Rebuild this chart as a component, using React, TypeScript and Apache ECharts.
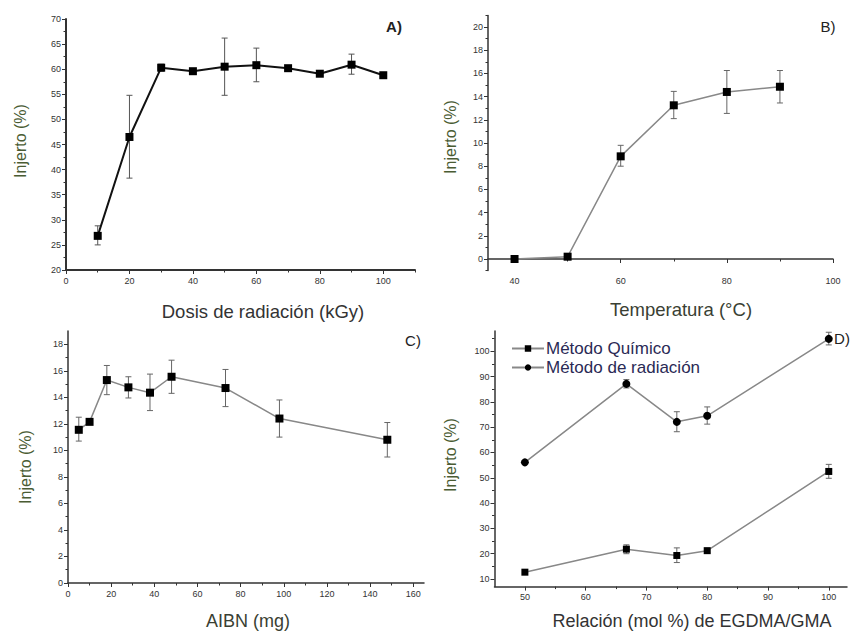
import React, { useEffect, useRef } from "react";
import * as echarts from "echarts";

// Panel A: Dosis de radiación
const xA = [10, 20, 30, 40, 50, 60, 70, 80, 90, 100];
const yA = [26.8, 46.5, 60.3, 59.6, 60.5, 60.8, 60.2, 59.1, 60.9, 58.8];
const loA = [25.0, 38.3, 59.6, 59.2, 54.8, 57.5, 59.8, 58.7, 59.0, 58.4];
const hiA = [28.8, 54.8, 61.0, 60.0, 66.2, 64.2, 60.6, 59.5, 63.0, 59.2];

// Panel B: Temperatura
const xB = [40, 50, 60, 70, 80, 90];
const yB = [0, 0.2, 8.85, 13.25, 14.4, 14.85];
const loB = [0, 0.2, 8.0, 12.1, 12.55, 13.45];
const hiB = [0, 0.2, 9.8, 14.45, 16.25, 16.25];

// Panel C: AIBN
const xC = [5, 10, 18, 28, 38, 48, 73, 98, 148];
const yC = [11.55, 12.15, 15.3, 14.75, 14.35, 15.55, 14.7, 12.4, 10.8];
const loC = [10.7, 12.15, 14.2, 13.95, 13.0, 14.3, 13.3, 11.0, 9.5];
const hiC = [12.5, 12.15, 16.4, 15.55, 15.75, 16.8, 16.1, 13.8, 12.1];

// Panel D: Relación EGDMA/GMA
const xD = [50, 66.7, 75, 80, 100];
const quim = [12.7, 21.8, 19.3, 21.2, 52.5];
const quimLo = [12.7, 20.0, 16.5, 20.3, 49.8];
const quimHi = [12.7, 23.5, 22.3, 22.1, 55.3];
const rad = [56.1, 87.1, 72.1, 74.5, 104.9];
const radLo = [56.1, 85.5, 68.2, 71.2, 102.5];
const radHi = [56.1, 88.8, 76.1, 78.0, 107.5];

// Tick values
const ticksAx = [0, 20, 40, 60, 80, 100];
const minorAx = [10, 30, 50, 70, 90, 110];
const ticksAy = [20, 25, 30, 35, 40, 45, 50, 55, 60, 65, 70];
const minorAy = [22.5, 27.5, 32.5, 37.5, 42.5, 47.5, 52.5, 57.5, 62.5, 67.5];
const ticksBx = [40, 60, 80, 100];
const minorBx = [50, 70, 90];
const ticksBy = [0, 2, 4, 6, 8, 10, 12, 14, 16, 18, 20];
const minorBy = [-1, 1, 3, 5, 7, 9, 11, 13, 15, 17, 19, 21];
const ticksCx = [0, 20, 40, 60, 80, 100, 120, 140, 160];
const minorCx = [10, 30, 50, 70, 90, 110, 130, 150];
const ticksCy = [0, 2, 4, 6, 8, 10, 12, 14, 16, 18];
const minorCy = [1, 3, 5, 7, 9, 11, 13, 15, 17];
const ticksDx = [50, 60, 70, 80, 90, 100];
const minorDx = [55, 65, 75, 85, 95];
const ticksDy = [10, 20, 30, 40, 50, 60, 70, 80, 90, 100];
const minorDy = [15, 25, 35, 45, 55, 65, 75, 85, 95, 105];

const FONT = "Liberation Sans, Arial, sans-serif";
const TITLE_GREEN = "#4a5c33";

const zip = (xs: number[], ys: number[]) => xs.map((x, i) => [x, ys[i]]);
const errData = (xs: number[], lo: number[], hi: number[]) =>
  xs.map((x, i) => [x, lo[i], hi[i]]).filter((d) => d[2] - d[1] > 0.05);

export default function App() {
  const ref = useRef<HTMLDivElement>(null);
  useEffect(() => {
    document.body.style.margin = "0";
    if (!ref.current) return;
    const chart = echarts.init(ref.current, undefined, { renderer: "svg" });

    const grids = [
      { left: 66, top: 19, width: 349, height: 251 },
      { left: 488, top: 15.4, width: 345, height: 255.2 },
      { left: 68, top: 331, width: 356, height: 252 },
      { left: 494.5, top: 331, width: 352.5, height: 255.6 },
    ];
    const xr = [
      [0, 110],
      [35, 100],
      [0, 165],
      [45, 103],
    ];
    const yr = [
      [20, 70],
      [-1, 21],
      [0, 19],
      [7, 108],
    ];
    const xMaj = [ticksAx, ticksBx, ticksCx, ticksDx];
    const xMin = [minorAx, minorBx, minorCx, minorDx];
    const yMaj = [ticksAy, ticksBy, ticksCy, ticksDy];
    const yMin = [minorAy, minorBy, minorCy, minorDy];
    const lw = [2, 1.5, 1.5, 1.5];

    const xAxes: any[] = [];
    const yAxes: any[] = [];
    for (let i = 0; i < 4; i++) {
      xAxes.push({
        type: "value",
        gridIndex: i,
        min: xr[i][0],
        max: xr[i][1],
        position: "bottom",
        axisLine: { show: true, lineStyle: { color: "#333", width: lw[i] } },
        axisTick: { show: true, customValues: xMaj[i], length: 4, lineStyle: { color: "#333", width: 1 } },
        axisLabel: { show: true, customValues: xMaj[i], fontSize: 9, color: "#333", fontFamily: FONT, margin: 6 },
        splitLine: { show: false },
      });
      yAxes.push({
        type: "value",
        gridIndex: i,
        min: yr[i][0],
        max: yr[i][1],
        position: "left",
        axisLine: { show: true, lineStyle: { color: "#333", width: lw[i] } },
        axisTick: { show: true, customValues: yMaj[i], length: 4, lineStyle: { color: "#333", width: 1 } },
        axisLabel: { show: true, customValues: yMaj[i], fontSize: 9, color: "#333", fontFamily: FONT, margin: 5 },
        splitLine: { show: false },
      });
    }
    for (let i = 0; i < 4; i++) {
      xAxes.push({
        type: "value",
        gridIndex: i,
        min: xr[i][0],
        max: xr[i][1],
        position: "bottom",
        offset: 0,
        axisLine: { show: false },
        axisTick: { show: true, customValues: xMin[i], length: 2.5, lineStyle: { color: "#333", width: 1 } },
        axisLabel: { show: false },
        splitLine: { show: false },
      });
      yAxes.push({
        type: "value",
        gridIndex: i,
        min: yr[i][0],
        max: yr[i][1],
        position: "left",
        offset: 0,
        axisLine: { show: false },
        axisTick: { show: true, customValues: yMin[i], length: 2.5, lineStyle: { color: "#333", width: 1 } },
        axisLabel: { show: false },
        splitLine: { show: false },
      });
    }

    const errSeries = (idx: number, data: number[][], color: string) => ({
      type: "custom",
      xAxisIndex: idx,
      yAxisIndex: idx,
      z: 1,
      encode: { x: 0, y: [1, 2] },
      data,
      renderItem: (_p: any, api: any) => {
        const x = api.value(0);
        const top = api.coord([x, api.value(2)]);
        const bot = api.coord([x, api.value(1)]);
        const w = 3;
        const style = { stroke: color, lineWidth: 1 };
        return {
          type: "group",
          children: [
            { type: "line", shape: { x1: top[0], y1: top[1], x2: bot[0], y2: bot[1] }, style },
            { type: "line", shape: { x1: top[0] - w, y1: top[1], x2: top[0] + w, y2: top[1] }, style },
            { type: "line", shape: { x1: bot[0] - w, y1: bot[1], x2: bot[0] + w, y2: bot[1] }, style },
          ],
        };
      },
    });

    const lineSeries = (idx: number, name: string, data: number[][], symbol: string, size: number, color: string, width: number) => ({
      type: "line",
      name,
      xAxisIndex: idx,
      yAxisIndex: idx,
      z: 3,
      data,
      symbol,
      symbolSize: size,
      showAllSymbol: true,
      lineStyle: { color, width },
      itemStyle: { color: "#000", borderWidth: 0 },
      emphasis: { disabled: true },
    });

    const titleText = (x: number, y: number, text: string, color: string, size: number, rotate = 0) => ({
      type: "text",
      x,
      y,
      rotation: rotate,
      style: {
        text,
        fill: color,
        font: `${size}px ${FONT}`,
        textAlign: "center",
        textVerticalAlign: "middle",
      },
    });
    const panelText = (x: number, y: number, text: string, weight: string) => ({
      type: "text",
      x,
      y,
      style: { text, fill: "#222", font: `${weight} 15px ${FONT}`, textAlign: "center", textVerticalAlign: "middle" },
    });

    chart.setOption({
      animation: false,
      backgroundColor: "#fff",
      grid: grids,
      xAxis: xAxes,
      yAxis: yAxes,
      legend: {
        data: ["Método Químico", "Método de radiación"],
        orient: "vertical",
        left: 506,
        top: 335,
        itemWidth: 32,
        itemHeight: 8,
        itemGap: 2,
        selectedMode: false,
        textStyle: { fontSize: 17, color: "#2a2a55", fontFamily: FONT, padding: [0, 0, 0, -3] },
      },
      graphic: [
        titleText(20, 141, "Injerto (%)", TITLE_GREEN, 16, Math.PI / 2),
        titleText(450, 137, "Injerto (%)", TITLE_GREEN, 16, Math.PI / 2),
        titleText(25, 467, "Injerto (%)", TITLE_GREEN, 16, Math.PI / 2),
        titleText(450, 455, "Injerto (%)", TITLE_GREEN, 16, Math.PI / 2),
        titleText(263, 311, "Dosis de radiación (kGy)", "#333", 18.5),
        titleText(681, 309, "Temperatura (°C)", "#3a3f33", 18.5),
        titleText(248, 621, "AIBN (mg)", "#3a3f33", 18),
        titleText(692, 621, "Relación (mol %) de EGDMA/GMA", "#333", 18),
        panelText(394, 26, "A)", "bold"),
        panelText(828, 26, "B)", "normal"),
        panelText(413, 340, "C)", "normal"),
        panelText(842, 338, "D)", "normal"),
      ],
      series: [
        errSeries(0, errData(xA, loA, hiA), "#555"),
        lineSeries(0, "A", zip(xA, yA), "rect", 8, "#111", 2),
        errSeries(1, errData(xB, loB, hiB), "#666"),
        lineSeries(1, "B", zip(xB, yB), "rect", 8, "#888", 1.5),
        errSeries(2, errData(xC, loC, hiC), "#666"),
        lineSeries(2, "C", zip(xC, yC), "rect", 8, "#888", 1.5),
        errSeries(3, errData(xD, quimLo, quimHi), "#666"),
        lineSeries(3, "Método Químico", zip(xD, quim), "rect", 7, "#888", 1.5),
        errSeries(3, errData(xD, radLo, radHi), "#666"),
        lineSeries(3, "Método de radiación", zip(xD, rad), "circle", 8, "#888", 1.5),
      ],
    });
    return () => chart.dispose();
  }, []);
  return <div ref={ref} style={{ width: 851, height: 632 }} />;
}
